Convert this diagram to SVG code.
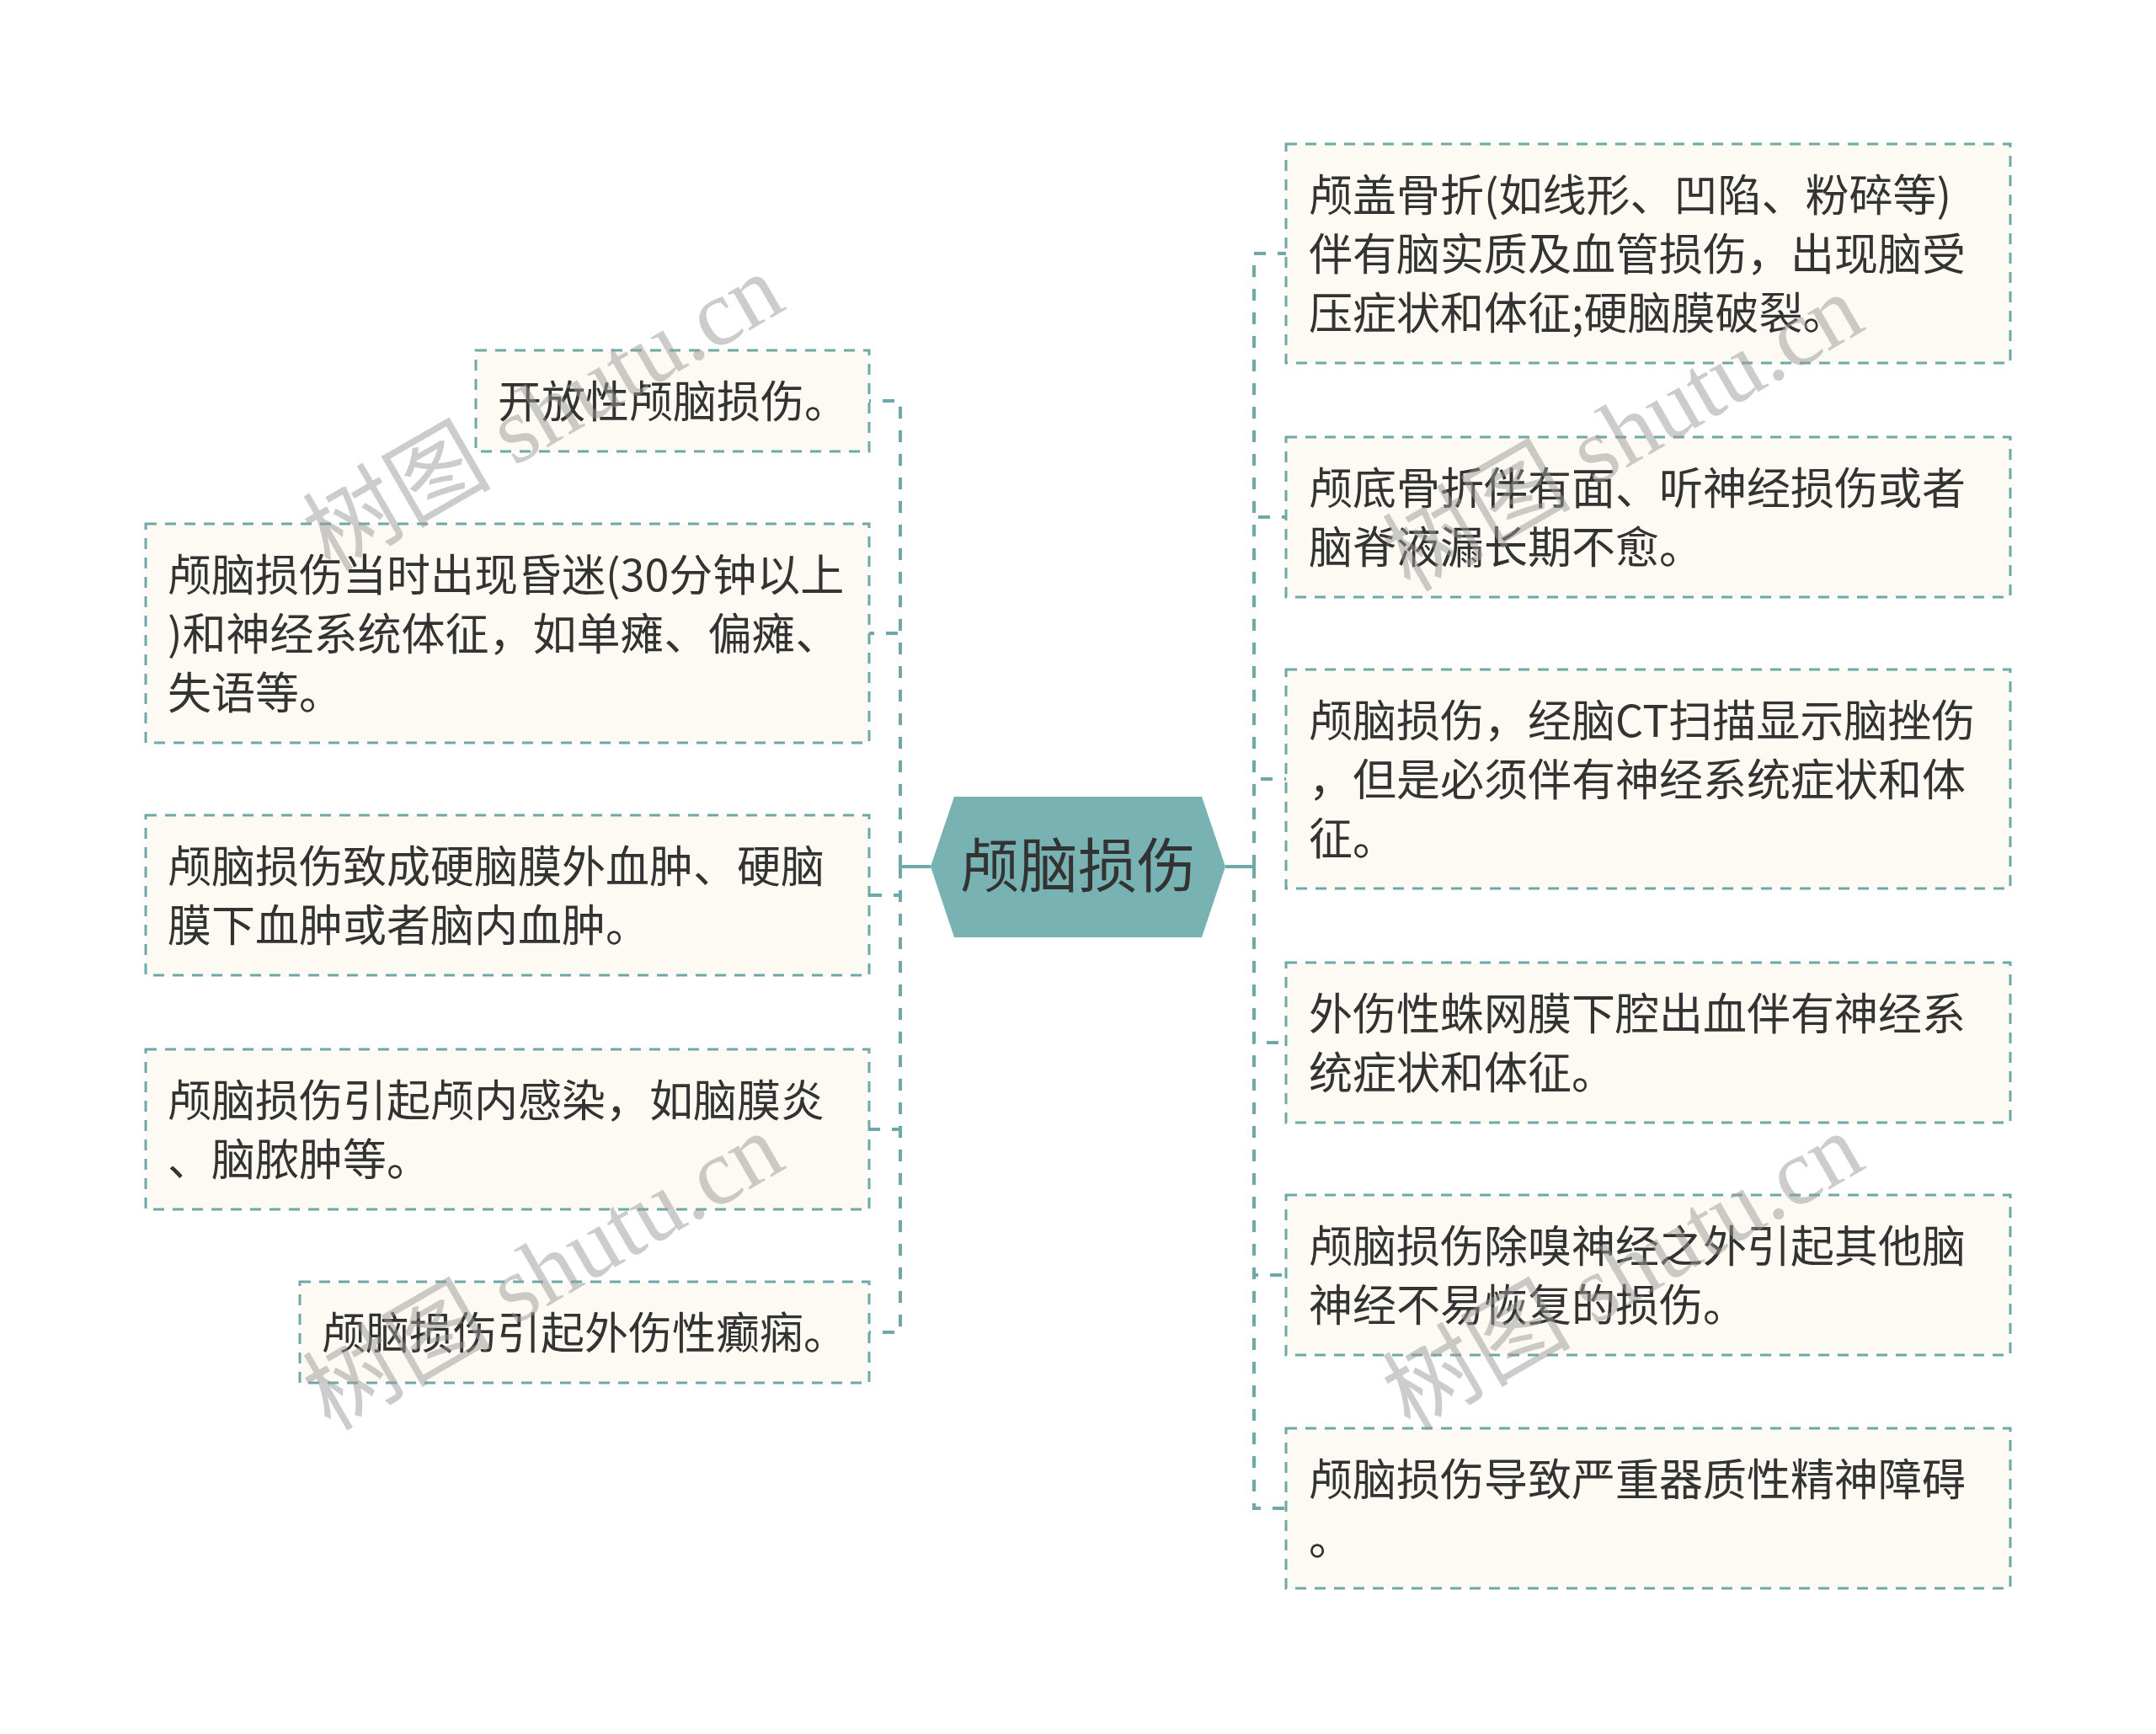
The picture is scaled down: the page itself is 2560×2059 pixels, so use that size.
<svg xmlns="http://www.w3.org/2000/svg" width="2560" height="2059" viewBox="0 0 2560 2059">
<style>
.box{fill:#fcfaf2;stroke:#6fa8a9;stroke-width:3;stroke-dasharray:13 10}
.t{font-family:"Noto Sans CJK SC","Noto Sans",sans-serif;font-size:52px;fill:#333333}
.c{fill:none;stroke:#6fa8a9;stroke-width:4;stroke-dasharray:14 14}
.cs{fill:none;stroke:#6fa8a9;stroke-width:4}
.wm{font-family:"Liberation Serif","Noto Sans CJK SC",serif;font-size:112px;fill:#9a9a9a;opacity:0.5}
</style>
<rect width="2560" height="2059" fill="#ffffff"/>
<g id="connectors">
<path class="cs" d="M1105 1029 H1069"/>
<path class="cs" d="M1455 1029 H1489"/>
<path class="c" d="M1069 1029 V476 H1032"/>
<path class="c" d="M1069 1029 V752 H1032"/>
<path class="c" d="M1069 1029 V1063 H1032"/>
<path class="c" d="M1069 1029 V1341 H1032"/>
<path class="c" d="M1069 1029 V1582 H1032"/>
<path class="c" d="M1489 1029 V301 H1527"/>
<path class="c" d="M1489 1029 V614 H1527"/>
<path class="c" d="M1489 1029 V925 H1527"/>
<path class="c" d="M1489 1029 V1238 H1527"/>
<path class="c" d="M1489 1029 V1514 H1527"/>
<path class="c" d="M1489 1029 V1791 H1527"/>
</g>
<g id="center">
<polygon points="1105,1029 1133,946 1427,946 1455,1029 1427,1113 1133,1113" fill="#78b2b2"/>
<text x="1280" y="1054" text-anchor="middle" font-family="Noto Sans CJK SC, sans-serif" font-size="70" fill="#333333">颅脑损伤</text>
</g>
<g id="L1">
<rect class="box" x="565" y="416" width="467" height="120"/>
<text class="t" x="591" y="496">开放性颅脑损伤。</text>
</g>
<g id="L2">
<rect class="box" x="173" y="622" width="859" height="260"/>
<text class="t" x="199" y="702">颅脑损伤当时出现昏迷(30分钟以上</text>
<text class="t" x="199" y="772">)和神经系统体征，如单瘫、偏瘫、</text>
<text class="t" x="199" y="842">失语等。</text>
</g>
<g id="L3">
<rect class="box" x="173" y="968" width="859" height="190"/>
<text class="t" x="199" y="1048">颅脑损伤致成硬脑膜外血肿、硬脑</text>
<text class="t" x="199" y="1118">膜下血肿或者脑内血肿。</text>
</g>
<g id="L4">
<rect class="box" x="173" y="1246" width="859" height="190"/>
<text class="t" x="199" y="1326">颅脑损伤引起颅内感染，如脑膜炎</text>
<text class="t" x="199" y="1396">、脑脓肿等。</text>
</g>
<g id="L5">
<rect class="box" x="356" y="1522" width="676" height="120"/>
<text class="t" x="382" y="1602">颅脑损伤引起外伤性癫痫。</text>
</g>
<g id="R1">
<rect class="box" x="1527" y="171" width="860" height="260"/>
<text class="t" x="1554" y="251">颅盖骨折(如线形、凹陷、粉碎等)</text>
<text class="t" x="1554" y="321">伴有脑实质及血管损伤，出现脑受</text>
<text class="t" x="1554" y="391">压症状和体征;硬脑膜破裂。</text>
</g>
<g id="R2">
<rect class="box" x="1527" y="519" width="860" height="190"/>
<text class="t" x="1554" y="599">颅底骨折伴有面、听神经损伤或者</text>
<text class="t" x="1554" y="669">脑脊液漏长期不愈。</text>
</g>
<g id="R3">
<rect class="box" x="1527" y="795" width="860" height="260"/>
<text class="t" x="1554" y="875">颅脑损伤，经脑CT扫描显示脑挫伤</text>
<text class="t" x="1554" y="945">，但是必须伴有神经系统症状和体</text>
<text class="t" x="1554" y="1015">征。</text>
</g>
<g id="R4">
<rect class="box" x="1527" y="1143" width="860" height="190"/>
<text class="t" x="1554" y="1223">外伤性蛛网膜下腔出血伴有神经系</text>
<text class="t" x="1554" y="1293">统症状和体征。</text>
</g>
<g id="R5">
<rect class="box" x="1527" y="1419" width="860" height="190"/>
<text class="t" x="1554" y="1499">颅脑损伤除嗅神经之外引起其他脑</text>
<text class="t" x="1554" y="1569">神经不易恢复的损伤。</text>
</g>
<g id="R6">
<rect class="box" x="1527" y="1696" width="860" height="190"/>
<text class="t" x="1554" y="1776">颅脑损伤导致严重器质性精神障碍</text>
<text class="t" x="1554" y="1846">。</text>
</g>
<g id="watermarks">
<text class="wm" text-anchor="middle" transform="translate(645 490) rotate(-30)" y="38">树图 shutu.cn</text>
<text class="wm" text-anchor="middle" transform="translate(1927 514) rotate(-30)" y="38">树图 shutu.cn</text>
<text class="wm" text-anchor="middle" transform="translate(645 1510) rotate(-30)" y="38">树图 shutu.cn</text>
<text class="wm" text-anchor="middle" transform="translate(1927 1510) rotate(-30)" y="38">树图 shutu.cn</text>
</g>
</svg>
